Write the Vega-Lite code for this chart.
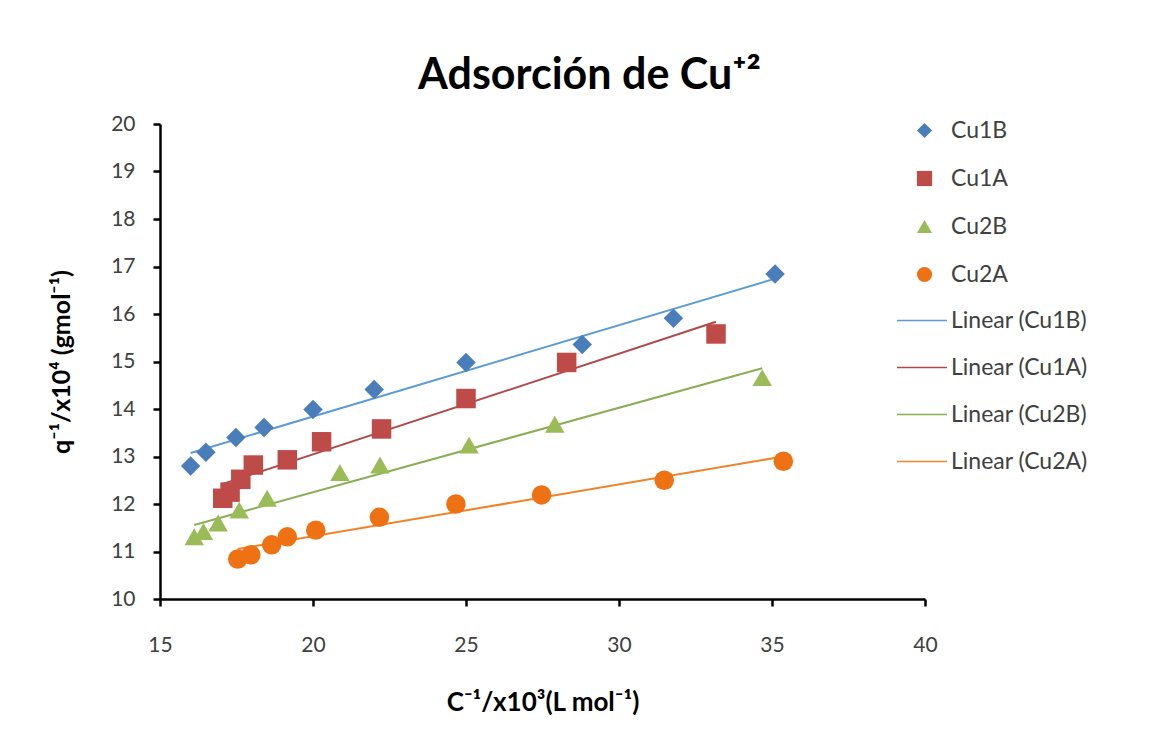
{
  "$schema": "https://vega.github.io/schema/vega-lite/v6.json",
  "autosize": "none",
  "width": 765,
  "height": 475,
  "padding": {"left": 160, "top": 124, "right": 236, "bottom": 137},
  "background": "white",
  "config": {
    "view": {"stroke": null},
    "font": "Lato",
    "axis": {"grid": false, "labelFlush": false, "domainColor": "black", "domainWidth": 2.5, "tickColor": "black", "tickWidth": 2.5, "tickSize": 7, "labelFont": "Lato", "labelFontSize": 21, "labelColor": "#404040", "titleFont": "Lato", "titleFontWeight": "bold", "titleColor": "black", "titleFontSize": 25}
  },
  "title": {"text": "Adsorción de Cu⁺²", "font": "Lato", "fontSize": 43, "fontWeight": "bold", "color": "black", "anchor": "middle", "dx": 47, "offset": 15},
  "data": {"values": [
    {"series": "Cu1B", "x": 16.0, "y": 12.8},
    {"series": "Cu1B", "x": 16.5, "y": 13.09},
    {"series": "Cu1B", "x": 17.48, "y": 13.4},
    {"series": "Cu1B", "x": 18.4, "y": 13.61},
    {"series": "Cu1B", "x": 20.0, "y": 13.99},
    {"series": "Cu1B", "x": 22.0, "y": 14.41},
    {"series": "Cu1B", "x": 25.0, "y": 14.98},
    {"series": "Cu1B", "x": 28.8, "y": 15.36},
    {"series": "Cu1B", "x": 31.78, "y": 15.91},
    {"series": "Cu1B", "x": 35.1, "y": 16.84},
    {"series": "Cu1A", "x": 17.05, "y": 12.12},
    {"series": "Cu1A", "x": 17.29, "y": 12.25},
    {"series": "Cu1A", "x": 17.64, "y": 12.52},
    {"series": "Cu1A", "x": 18.05, "y": 12.82},
    {"series": "Cu1A", "x": 19.16, "y": 12.93},
    {"series": "Cu1A", "x": 20.28, "y": 13.31},
    {"series": "Cu1A", "x": 22.24, "y": 13.58},
    {"series": "Cu1A", "x": 25.0, "y": 14.22},
    {"series": "Cu1A", "x": 28.29, "y": 14.98},
    {"series": "Cu1A", "x": 33.17, "y": 15.58},
    {"series": "Cu2B", "x": 16.12, "y": 11.31},
    {"series": "Cu2B", "x": 16.42, "y": 11.42},
    {"series": "Cu2B", "x": 16.9, "y": 11.6},
    {"series": "Cu2B", "x": 17.59, "y": 11.87},
    {"series": "Cu2B", "x": 18.5, "y": 12.12},
    {"series": "Cu2B", "x": 20.88, "y": 12.66},
    {"series": "Cu2B", "x": 22.19, "y": 12.82},
    {"series": "Cu2B", "x": 25.1, "y": 13.24},
    {"series": "Cu2B", "x": 27.9, "y": 13.68},
    {"series": "Cu2B", "x": 34.68, "y": 14.66},
    {"series": "Cu2A", "x": 17.54, "y": 10.84},
    {"series": "Cu2A", "x": 17.97, "y": 10.93},
    {"series": "Cu2A", "x": 18.65, "y": 11.14},
    {"series": "Cu2A", "x": 19.16, "y": 11.31},
    {"series": "Cu2A", "x": 20.09, "y": 11.45},
    {"series": "Cu2A", "x": 22.17, "y": 11.72},
    {"series": "Cu2A", "x": 24.67, "y": 12.0},
    {"series": "Cu2A", "x": 27.47, "y": 12.19},
    {"series": "Cu2A", "x": 31.48, "y": 12.5},
    {"series": "Cu2A", "x": 35.37, "y": 12.9}
  ]},
  "encoding": {
    "x": {"field": "x", "type": "quantitative", "scale": {"domain": [15, 40], "nice": false, "zero": false}, "axis": {"values": [15, 20, 25, 30, 35, 40], "labelPadding": 28, "titlePadding": 34, "titleFontSize": 26, "title": "C⁻¹/x10³(L mol⁻¹)"}},
    "y": {"field": "y", "type": "quantitative", "scale": {"domain": [10, 20], "nice": false, "zero": false}, "axis": {"values": [10, 11, 12, 13, 14, 15, 16, 17, 18, 19, 20], "labelPadding": 18, "titlePadding": 36, "title": "q⁻¹/x10⁴ (gmol⁻¹)"}}
  },
  "layer": [
    {
      "transform": [
        {"regression": "y", "on": "x", "groupby": ["series"]},
        {"calculate": "'Linear (' + datum.series + ')'", "as": "lname"}
      ],
      "mark": {"type": "line", "strokeWidth": 2},
      "encoding": {
        "stroke": {"field": "lname", "type": "nominal",
          "scale": {"domain": ["Linear (Cu1B)", "Linear (Cu1A)", "Linear (Cu2B)", "Linear (Cu2A)"], "range": ["#5B9BD5", "#B04A4A", "#8AAE55", "#F08228"]},
          "legend": {"orient": "none", "legendX": 736, "legendY": 173, "title": null, "symbolType": "stroke", "symbolSize": 2500, "symbolStrokeWidth": 1.5, "labelFont": "Lato", "labelFontSize": 23, "labelColor": "#404040", "labelOffset": 3, "clipHeight": 47, "rowPadding": 0, "padding": 0}
        }
      }
    },
    {
      "mark": {"type": "point", "filled": true, "opacity": 1, "size": 380},
      "encoding": {
        "fill": {"field": "series", "type": "nominal",
          "scale": {"domain": ["Cu1B", "Cu1A", "Cu2B", "Cu2A"], "range": ["#4A7EBB", "#BE4B48", "#9BBB59", "#EE7114"]},
          "legend": {"orient": "none", "legendX": 753, "legendY": -5, "title": null, "symbolSize": 230, "symbolStrokeWidth": 0, "labelFont": "Lato", "labelFontSize": 23, "labelColor": "#404040", "labelOffset": 15, "rowPadding": 24, "padding": 0}
        },
        "shape": {"field": "series", "type": "nominal",
          "scale": {"domain": ["Cu1B", "Cu1A", "Cu2B", "Cu2A"], "range": ["diamond", "square", "triangle-up", "circle"]},
          "legend": {"orient": "none", "legendX": 753, "legendY": -5, "title": null, "symbolSize": 230, "symbolStrokeWidth": 0, "labelFont": "Lato", "labelFontSize": 23, "labelColor": "#404040", "labelOffset": 15, "rowPadding": 24, "padding": 0}
        }
      }
    }
  ]
}
